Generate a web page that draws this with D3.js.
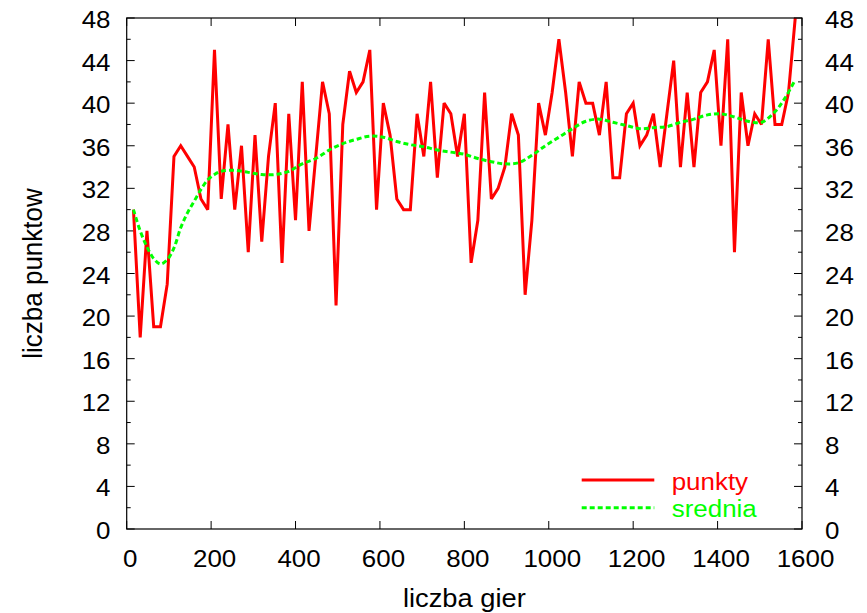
<!DOCTYPE html>
<html>
<head>
<meta charset="utf-8">
<script src="https://cdn.jsdelivr.net/npm/d3@7"></script>
<style>
  html, body { margin: 0; padding: 0; background: #fff; }
  svg { display: block; }
  text { font-family: "Liberation Sans", Arial, Helvetica, sans-serif; }
</style>
</head>
<body>
<script>
// number of games played (x) and points scored (y)
const games = [
  16, 32, 48, 64, 80, 96, 112, 128, 144, 160,
  176, 192, 208, 224, 240, 256, 272, 288, 304, 320,
  336, 352, 368, 384, 400, 416, 432, 448, 464, 480,
  496, 512, 528, 544, 560, 576, 592, 608, 624, 640,
  656, 672, 688, 704, 720, 736, 752, 768, 784, 800,
  816, 832, 848, 864, 880, 896, 912, 928, 944, 960,
  976, 992, 1008, 1024, 1040, 1056, 1072, 1088, 1104, 1120,
  1136, 1152, 1168, 1184, 1200, 1216, 1232, 1248, 1264, 1280,
  1296, 1312, 1328, 1344, 1360, 1376, 1392, 1408, 1424, 1440,
  1456, 1472, 1488, 1504, 1520, 1536, 1552, 1568, 1584
];
const punkty = [
  30, 18, 28, 19, 19, 23, 35, 36, 35, 34,
  31, 30, 45, 31, 38, 30, 36, 26, 37, 27,
  35, 40, 25, 39, 29, 42, 28, 35, 42, 39,
  21, 38, 43, 41, 42, 45, 30, 40, 37, 31,
  30, 30, 39, 35, 42, 33, 40, 39, 35, 39,
  25, 29, 41, 31, 32, 34, 39, 37, 22, 29,
  40, 37, 41, 46, 41, 35, 42, 40, 40, 37,
  42, 33, 33, 39, 40, 36, 37, 39, 34, 39,
  44, 34, 41, 34, 41, 42, 45, 36, 46, 26,
  41, 36, 39, 38, 46, 38, 38, 41, 48
];

// running average curve
const sredniaX = [
  16, 32, 48, 64, 80, 96, 112, 128, 144, 160,
  176, 192, 208, 224, 256, 288, 320, 352, 384, 416,
  448, 480, 512, 544, 576, 608, 640, 672, 704, 736,
  768, 800, 832, 864, 896, 928, 960, 992, 1024, 1056,
  1088, 1120, 1152, 1184, 1216, 1248, 1280, 1312, 1344, 1376,
  1408, 1440, 1472, 1504, 1536, 1560, 1584
];
const sredniaY = [
  30.0, 28.0, 26.5, 25.4, 24.9, 25.3, 26.4, 28.3, 29.7, 30.8,
  31.9, 32.8, 33.3, 33.6, 33.7, 33.5, 33.3, 33.3, 33.6, 34.3,
  34.8, 35.6, 36.2, 36.6, 36.9, 36.8, 36.4, 36.1, 35.9, 35.6,
  35.4, 35.2, 34.8, 34.5, 34.3, 34.4, 35.1, 36.0, 36.8, 37.6,
  38.3, 38.5, 38.2, 37.9, 37.6, 37.7, 37.8, 38.2, 38.5, 38.9,
  39.0, 38.7, 38.3, 38.2, 39.2, 40.5, 42.2
];

const xTicks = [0, 200, 400, 600, 800, 1000, 1200, 1400, 1600];
const yTicks = [0, 4, 8, 12, 16, 20, 24, 28, 32, 36, 40, 44, 48];
const yMinorTicks = [2, 6, 10, 14, 18, 22, 26, 30, 34, 38, 42, 46];
const seriesNames = ["punkty", "srednia"];
const xTitle = "liczba gier";
const yTitle = "liczba punktow";

const W = 867, H = 613;
const plot = { left: 126.7, right: 802, top: 18, bottom: 529 };
const RED = "#ff0000", GREEN = "#00ff00";
const FONT = 24.7, TITLE_FONT = 26, SX = 1.05;   // glyphs are slightly wide relative to their height

const svg = d3.select("body").append("svg")
  .attr("width", W).attr("height", H)
  .attr("viewBox", `0 0 ${W} ${H}`);

svg.append("rect").attr("width", W).attr("height", H).attr("fill", "#fff");

const x = d3.scaleLinear().domain([0, 1600]).range([plot.left, plot.right]);
const y = d3.scaleLinear().domain([0, 48]).range([plot.bottom, plot.top]);

function label(str, px, py, anchor, color, rotate, size) {
  svg.append("text")
    .attr("transform", `translate(${px},${py}) scale(${SX},1)` + (rotate ? " rotate(-90)" : ""))
    .attr("text-anchor", anchor)
    .attr("font-size", size || FONT)
    .attr("fill", color || "#000")
    .text(str);
}

// ticks: all pointing into the plot
const tickG = svg.append("g").attr("stroke", "#000").attr("stroke-width", 1);
const majorLen = 8, minorLen = 4;
xTicks.forEach(v => {
  tickG.append("line").attr("x1", x(v)).attr("x2", x(v))
    .attr("y1", plot.bottom).attr("y2", plot.bottom - majorLen);
  tickG.append("line").attr("x1", x(v)).attr("x2", x(v))
    .attr("y1", plot.top).attr("y2", plot.top + majorLen);
});
yTicks.forEach(v => {
  tickG.append("line").attr("x1", plot.left).attr("x2", plot.left + majorLen)
    .attr("y1", y(v)).attr("y2", y(v));
  tickG.append("line").attr("x1", plot.right).attr("x2", plot.right - majorLen)
    .attr("y1", y(v)).attr("y2", y(v));
});
yMinorTicks.forEach(v => {
  tickG.append("line").attr("x1", plot.left).attr("x2", plot.left + minorLen)
    .attr("y1", y(v)).attr("y2", y(v));
  tickG.append("line").attr("x1", plot.right).attr("x2", plot.right - minorLen)
    .attr("y1", y(v)).attr("y2", y(v));
});

// tick labels
xTicks.forEach(v => label(String(v), x(v) + 3.5, 567, "middle"));
yTicks.forEach(v => {
  label(String(v), 110.5, y(v) + 10, "end");
  label(String(v), 825, y(v) + 10, "start");
});

// axis titles
label(xTitle, (plot.left + plot.right) / 2, 607, "middle", "#000", false, TITLE_FONT);
label(yTitle, 42, (plot.top + plot.bottom) / 2, "middle", "#000", true, TITLE_FONT);

// data lines
const redLine = d3.line().x((d, i) => x(games[i])).y(d => y(d));
svg.append("path")
  .attr("d", redLine(punkty))
  .attr("fill", "none").attr("stroke", RED).attr("stroke-width", 3)
  .attr("stroke-linejoin", "miter").attr("stroke-miterlimit", 3);

const greenLine = d3.line().x((d, i) => x(sredniaX[i])).y(d => y(d))
  .curve(d3.curveCatmullRom.alpha(0.5));
svg.append("path")
  .attr("d", greenLine(sredniaY))
  .attr("fill", "none").attr("stroke", GREEN).attr("stroke-width", 3)
  .attr("stroke-dasharray", "5,3");

// legend
const legendX1 = 581.7, legendX2 = 654.3, legendY = [480, 507.7];
svg.append("line").attr("x1", legendX1).attr("x2", legendX2)
  .attr("y1", legendY[0]).attr("y2", legendY[0])
  .attr("stroke", RED).attr("stroke-width", 3);
svg.append("line").attr("x1", legendX1).attr("x2", legendX2)
  .attr("y1", legendY[1]).attr("y2", legendY[1])
  .attr("stroke", GREEN).attr("stroke-width", 3).attr("stroke-dasharray", "5,3");
label(seriesNames[0], 671.7, legendY[0] + 9.6, "start", RED);
label(seriesNames[1], 671.7, legendY[1] + 9.6, "start", GREEN);

// frame
svg.append("rect")
  .attr("x", plot.left).attr("y", plot.top)
  .attr("width", plot.right - plot.left).attr("height", plot.bottom - plot.top)
  .attr("fill", "none").attr("stroke", "#000").attr("stroke-width", 1.2);
</script>
</body>
</html>
